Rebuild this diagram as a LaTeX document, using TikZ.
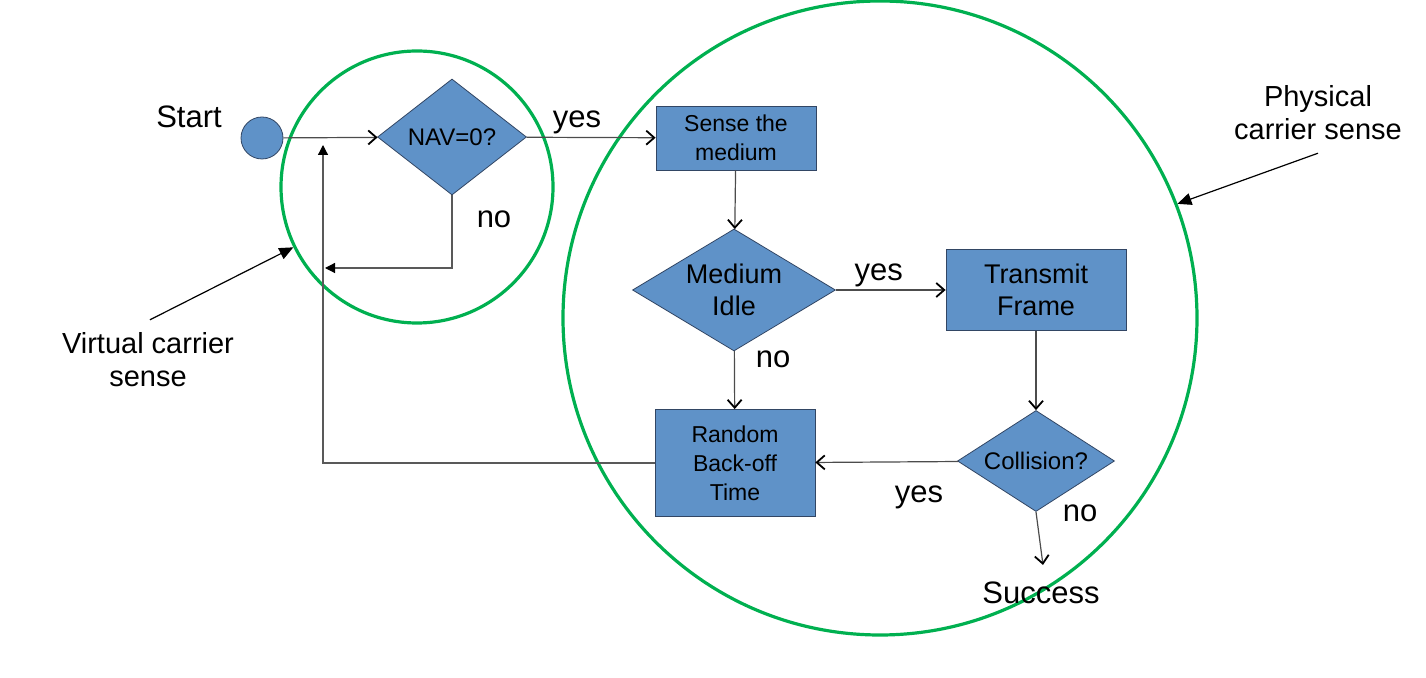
\documentclass[tikz,border=0pt]{standalone}
\usepackage{fontspec}
\setmainfont{Liberation Sans}
\usepackage{tikz}
\usetikzlibrary{shapes.geometric, positioning, arrows.meta}
\definecolor{boxblue}{RGB}{95,146,200}
\definecolor{boxedge}{RGB}{50,70,100}
\definecolor{sensegreen}{RGB}{0,176,80}

\begin{document}
\begin{tikzpicture}[
    x=0.5pt, y=-0.5pt,
    proc/.style={rectangle, draw=boxedge, fill=boxblue, thin, align=center, inner sep=1pt},
    decision/.style={diamond, draw=boxedge, fill=boxblue, thin, align=center, inner sep=0pt},
    arrow/.style={-{Straight Barb[length=4pt, width=7pt, line width=0.9pt, color=black]}, gray!60!black, line width=0.6pt},
    back/.style={-{Triangle[length=5pt, width=5pt, color=black]}, gray!70!black, line width=0.6pt},
    note/.style={-{Triangle[length=7pt, width=6pt]}, black, line width=0.6pt},
    lbl/.style={text=black, font=\fontsize{15.5}{18}\selectfont},
    ring/.style={circle, draw=sensegreen, line width=1.6pt, inner sep=0pt}
]
    \useasboundingbox (0,0) rectangle (1426,678);

    % Carrier sense regions
    \node[ring, minimum size=136pt] (vring) at (417,187) {};
    \node[ring, minimum size=317pt] (pring) at (880,318) {};

    % Virtual carrier sense
    \node[font=\fontsize{15.5}{18}\selectfont] at (189,117) {Start};
    \node[circle, draw=boxedge, fill=boxblue, thin, minimum size=21pt, inner sep=0pt] (start) at (262,138) {};
    \node[decision, aspect=1.28, minimum width=74.5pt, minimum height=58pt, font=\fontsize{12}{14.5}\selectfont] (nav) at (452,137) {NAV=0?};

    % Physical carrier sense
    \node[proc, minimum width=80pt, minimum height=32pt, font=\fontsize{11.5}{14.5}\selectfont] (sense) at (736,138) {Sense the\\medium};
    \node[decision, aspect=1.66, minimum width=101.5pt, minimum height=61pt, font=\fontsize{13.5}{16}\selectfont] (idle) at (734,290) {Medium\\Idle};
    \node[proc, minimum width=90pt, minimum height=40.5pt, font=\fontsize{13.5}{16}\selectfont] (tx) at (1036,290) {Transmit\\Frame};
    \node[proc, minimum width=80pt, minimum height=53.5pt, font=\fontsize{11.5}{14.5}\selectfont] (rand) at (735,463) {Random\\Back-off\\Time};
    \node[decision, aspect=1.55, minimum width=78.5pt, minimum height=50.5pt, font=\fontsize{12}{14.5}\selectfont] (coll) at (1036,461) {Collision?};
    \node[font=\fontsize{15.5}{18}\selectfont] (succ) at (1041,593) {Success};

    \coordinate (fb) at (323,145);
    \coordinate (ret) at (325,268);

    \draw[arrow] (start) -- (nav);
    \draw[arrow] (nav) -- node[lbl, above, xshift=-7pt, yshift=-2pt] {yes} (sense);
    \draw[back] (nav.south) |- (ret);
    \node[lbl] at (494,219) {no};
    \draw[arrow] (sense) -- (idle);
    \draw[arrow] (idle) -- node[lbl, above, xshift=-6pt, yshift=-2pt] {yes} (tx);
    \draw[arrow] (idle) -- (rand);
    \node[lbl] at (773,359) {no};
    \draw[arrow] (tx) -- (coll);
    \draw[arrow] (coll) -- (rand);
    \node[lbl] at (919,497) {yes};
    \draw[arrow] (coll.south) -- ([xshift=1pt, yshift=5pt]succ.north);
    \node[lbl] at (1080,513) {no};
    \draw[back] (rand.west) -| (fb);

    % Annotations
    \node[font=\fontsize{14.5}{16.5}\selectfont, align=center] (vcs) at (148,360) {Virtual carrier\\sense};
    \node[font=\fontsize{14.5}{16.5}\selectfont, align=center] (pcs) at (1318,113) {Physical\\carrier sense};
    \draw[note] ([xshift=1pt, yshift=3pt]vcs.north) -- (vring.206);
    \draw[note] ([yshift=-3pt]pcs.south) -- (pring.21);
\end{tikzpicture}
\end{document}
